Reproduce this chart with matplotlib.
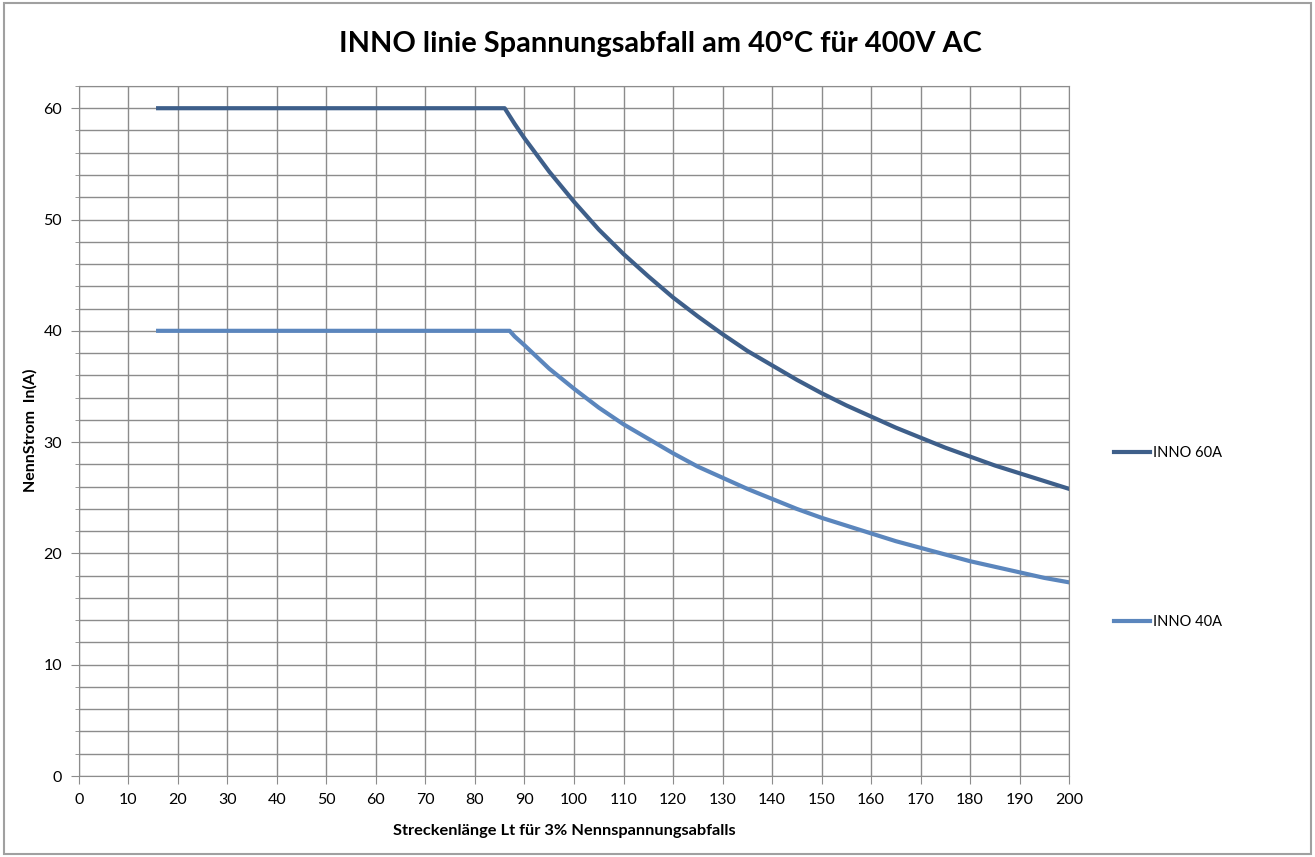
import matplotlib
matplotlib.use("Agg")
import matplotlib.pyplot as plt
from matplotlib.ticker import MultipleLocator

# values
x60 = [16, 86, 88, 90, 95, 100, 105, 110, 115, 120, 125, 130, 135, 140, 145, 150,
       155, 160, 165, 170, 175, 180, 185, 190, 195, 200]
y60 = [60, 60, 58.6, 57.3, 54.3, 51.6, 49.1, 46.9, 44.9, 43.0, 41.3, 39.7, 38.2,
       36.9, 35.6, 34.4, 33.3, 32.3, 31.3, 30.4, 29.5, 28.7, 27.9, 27.2, 26.5, 25.8]
x40 = [16, 87, 88, 90, 95, 100, 105, 110, 115, 120, 125, 130, 135, 140, 145, 150,
       155, 160, 165, 170, 175, 180, 185, 190, 195, 200]
y40 = [40, 40, 39.5, 38.7, 36.6, 34.8, 33.1, 31.6, 30.3, 29.0, 27.8, 26.8, 25.8,
       24.9, 24.0, 23.2, 22.5, 21.8, 21.1, 20.5, 19.9, 19.3, 18.8, 18.3, 17.8, 17.4]
labels = ["INNO 60A", "INNO 40A"]

plt.rcParams['font.family'] = ['Lato', 'DejaVu Sans']

fig = plt.figure(figsize=(13.15, 8.57), dpi=100)
ax = fig.add_axes([0.060, 0.0945, 0.753, 0.8052])

grid_col = "#8c8c8c"
l1, = ax.plot(x60, y60, color="#3e5f8a", lw=3, label=labels[0])
l2, = ax.plot(x40, y40, color="#5b86bd", lw=3, label=labels[1])

ax.set_xlim(0, 200)
ax.set_ylim(0, 62)
ax.xaxis.set_major_locator(MultipleLocator(10))
ax.yaxis.set_major_locator(MultipleLocator(10))
ax.yaxis.set_minor_locator(MultipleLocator(2))
ax.grid(which="both", color=grid_col, lw=1)
ax.set_axisbelow(True)
for s in ax.spines.values():
    s.set_color(grid_col)
ax.tick_params(which="major", length=6, color=grid_col, labelsize=11.5, pad=6)
ax.tick_params(which="minor", length=3, color=grid_col)

ax.set_xlabel("Streckenlänge Lt für 3% Nennspannungsabfalls", fontsize=11.8, fontweight="bold")
ax.xaxis.set_label_coords(0.49, -0.069)
ax.set_ylabel("NennStrom  In(A)", fontsize=11.5, fontweight="bold")
ax.yaxis.set_label_coords(-0.042, 0.501)

fig.suptitle("INNO linie Spannungsabfall am 40°C für 400V AC", fontsize=20.9,
             fontweight="bold", x=0.502, y=0.964)

ax.legend(handles=[l1, l2], frameon=False, loc="upper left",
          bbox_to_anchor=(1.032, 0.497), fontsize=10.5, labelspacing=10.6,
          handlelength=2.5, handletextpad=0.2)

# chart area border
fig.patches.append(plt.Rectangle((0.003, 0.003), 0.994, 0.994, transform=fig.transFigure,
                                 fill=False, edgecolor="#a0a0a0", lw=1.5))

fig.savefig("out.png", dpi=100)
